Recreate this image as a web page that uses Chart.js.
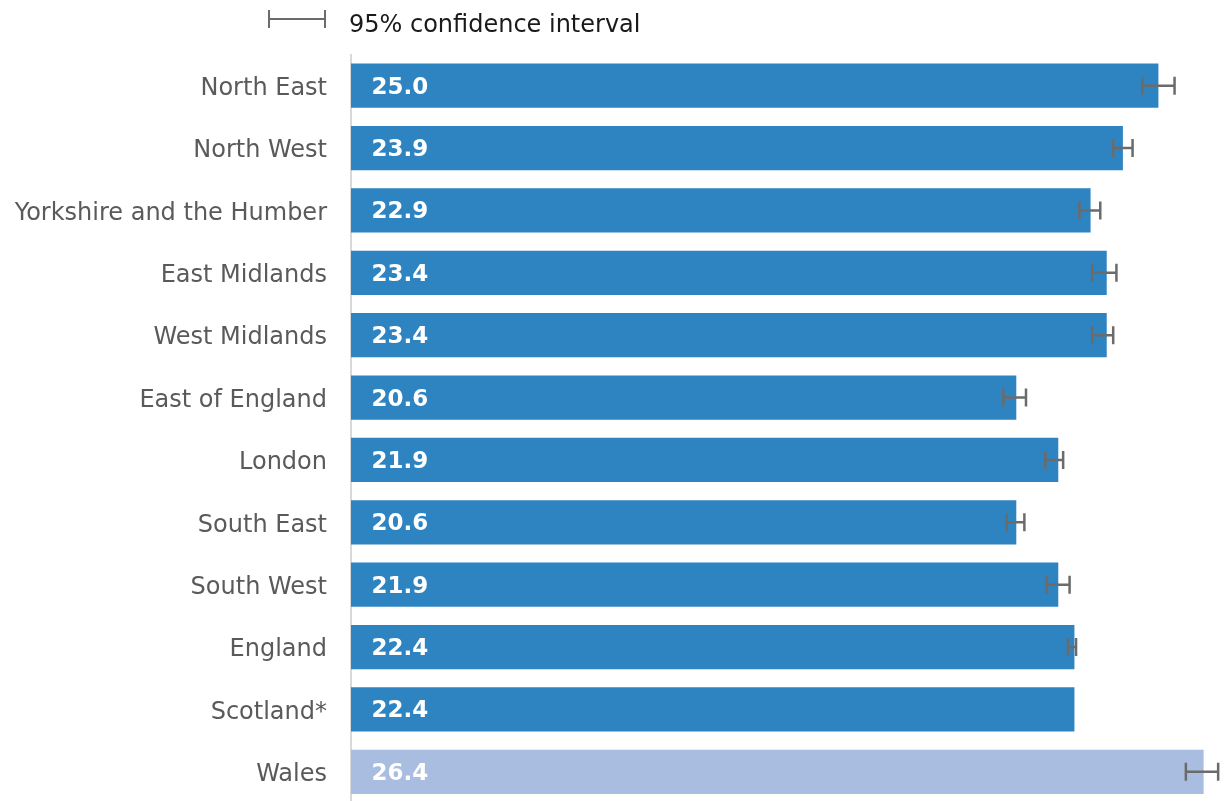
<!DOCTYPE html>
<html>
<head>
<meta charset="utf-8">
<script src="https://cdn.jsdelivr.net/npm/chart.js@4.4.1/dist/chart.umd.min.js"></script>
<style>
  html, body { margin: 0; padding: 0; background: #fff; overflow: hidden; }
  #wrap { position: relative; width: 1228px; height: 805px; }
</style>
</head>
<body>
<div id="wrap"><canvas id="ctx"></canvas></div>
<script>
const regions = ['North East', 'North West', 'Yorkshire and the Humber', 'East Midlands', 'West Midlands',
  'East of England', 'London', 'South East', 'South West', 'England', 'Scotland*', 'Wales']
const values = [25.0, 23.9, 22.9, 23.4, 23.4, 20.6, 21.9, 20.6, 21.9, 22.4, 22.4, 26.4]
const ciLow = [24.5, 23.6, 22.55, 22.95, 22.95, 20.2, 21.5, 20.3, 21.55, 22.2, null, 25.85]
const ciHigh = [25.5, 24.2, 23.2, 23.7, 23.6, 20.9, 22.05, 20.85, 22.25, 22.45, null, 26.85]
const legendText = '95% confidence interval'

const blue = '#2e83c1'
const paleBlue = '#a8bddf'
const errGrey = '#6b6b6b'
const font = '"DejaVu Sans", Verdana, sans-serif'

// error bars, value labels and the little legend up top
const extras = {
  id: 'extras',
  afterDatasetsDraw(chart) {
    const c = chart.ctx
    const x = chart.scales.x
    const bars = chart.getDatasetMeta(0).data
    c.save()
    // error bars
    c.strokeStyle = errGrey
    c.lineWidth = 2.5
    bars.forEach((bar, i) => {
      if (ciLow[i] == null) return
      const x1 = x.getPixelForValue(ciLow[i])
      const x2 = x.getPixelForValue(ciHigh[i])
      const y = bar.y
      c.beginPath()
      c.moveTo(x1, y); c.lineTo(x2, y)
      c.moveTo(x1, y - 9); c.lineTo(x1, y + 9)
      c.moveTo(x2, y - 9); c.lineTo(x2, y + 9)
      c.stroke()
    })
    // values inside bars
    c.fillStyle = '#fff'
    c.font = 'bold 23px ' + font
    c.textAlign = 'left'
    c.textBaseline = 'middle'
    bars.forEach((bar, i) => {
      c.fillText(values[i].toFixed(1), bar.base + 20.5, bar.y + 2)
    })
    // legend
    c.strokeStyle = errGrey
    c.lineWidth = 2
    c.beginPath()
    c.moveTo(269, 19); c.lineTo(325, 19)
    c.moveTo(269, 10); c.lineTo(269, 28)
    c.moveTo(325, 10); c.lineTo(325, 28)
    c.stroke()
    c.fillStyle = '#1a1a1a'
    c.font = '24px ' + font
    c.fillText(legendText, 349, 26)
    c.restore()
  }
}

const chart = new Chart(document.getElementById('ctx'), {
  type: 'bar',
  data: {
    labels: regions,
    datasets: [{
      data: values,
      backgroundColor: regions.map(r => r === 'Wales' ? paleBlue : blue),
      borderWidth: 0,
      categoryPercentage: 1,
      barPercentage: 0.71
    }]
  },
  options: {
    indexAxis: 'y',
    responsive: true,
    maintainAspectRatio: false,
    animation: false,
    layout: { padding: { top: 54.5, right: 5, bottom: 2, left: 0 } },
    plugins: {
      legend: { display: false },
      tooltip: { enabled: false }
    },
    scales: {
      x: {
        display: false,
        min: 0,
        max: 27
      },
      y: {
        afterFit(scale) {
          scale.width = 351
          scale.paddingTop = 0
          scale.paddingBottom = 0
        },
        grid: { display: false, drawTicks: false },
        border: { display: true, color: '#d9d9d9', width: 2 },
        ticks: {
          color: '#5a5a5a',
          padding: 24,
          labelOffset: 3,
          font: { family: font, size: 24 }
        }
      }
    }
  },
  plugins: [extras]
})
</script>
</body>
</html>
